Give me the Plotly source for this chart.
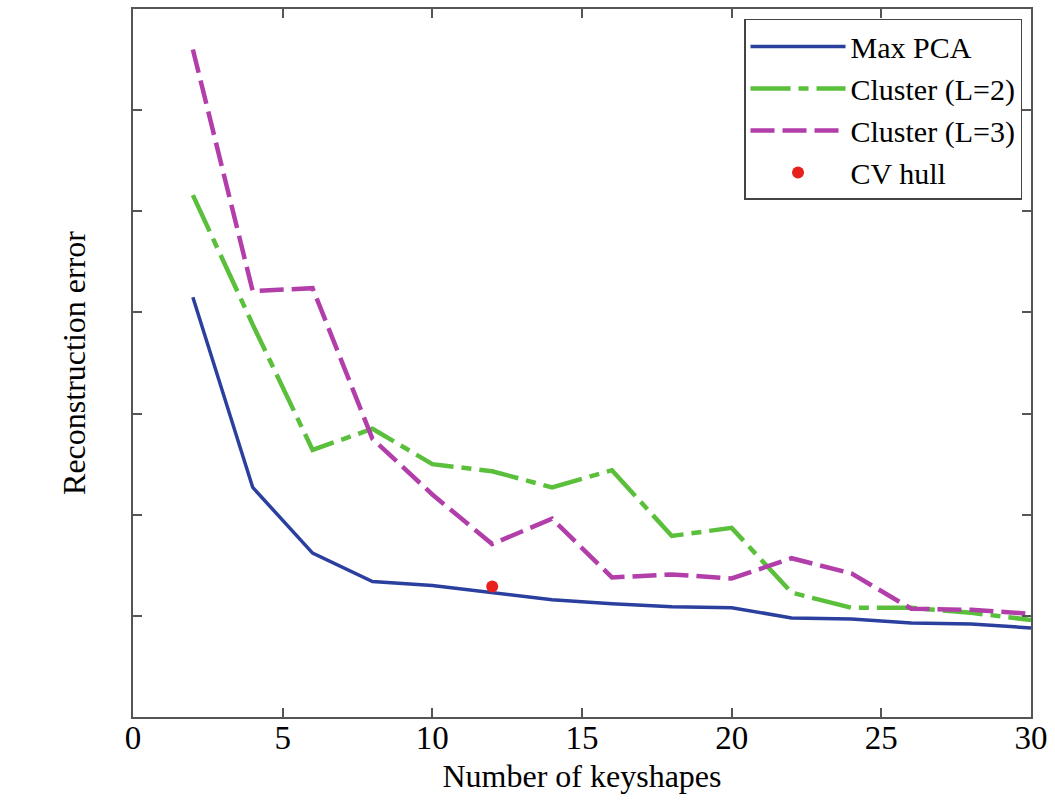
import plotly.graph_objects as go

# Number of keyshapes evaluated
keyshapes = [2, 4, 6, 8, 10, 12, 14, 16, 18, 20, 22, 24, 26, 28, 30]

# Reconstruction error per method (arbitrary units)
max_pca = [4.15, 2.27, 1.62, 1.34, 1.30, 1.23, 1.16, 1.12, 1.09, 1.08,
           0.98, 0.97, 0.93, 0.92, 0.88]
cluster_l2 = [5.16, 3.88, 2.64, 2.85, 2.50, 2.43, 2.27, 2.44, 1.79, 1.87,
              1.23, 1.08, 1.08, 1.03, 0.96]
cluster_l3 = [6.60, 4.21, 4.24, 2.75, 2.20, 1.71, 1.96, 1.38, 1.41, 1.37,
              1.57, 1.42, 1.07, 1.06, 1.02]

# Single CV hull result
cv_hull_x = [12]
cv_hull_y = [1.29]

x_ticks = [0, 5, 10, 15, 20, 25, 30]
y_ticks = [1, 2, 3, 4, 5, 6]

serif = "Liberation Serif, Times New Roman, serif"

fig = go.Figure()
fig.add_trace(go.Scatter(
    x=keyshapes, y=max_pca, mode="lines", name="Max PCA",
    line=dict(color="#2b3f9e", width=3.5)))
fig.add_trace(go.Scatter(
    x=keyshapes, y=cluster_l2, mode="lines", name="Cluster (L=2)",
    line=dict(color="#5abf3a", width=4.5, dash="40px,8px,10px,8px")))
fig.add_trace(go.Scatter(
    x=keyshapes, y=cluster_l3, mode="lines", name="Cluster (L=3)",
    line=dict(color="#b23eaa", width=4.5, dash="24px,8px")))
fig.add_trace(go.Scatter(
    x=cv_hull_x, y=cv_hull_y, mode="markers", name="CV hull",
    marker=dict(color="#e8211d", size=12)))

axis_common = dict(
    showline=True, linecolor="#555555", linewidth=2, mirror="ticks",
    ticks="inside", ticklen=9, tickwidth=1.5, tickcolor="#555555",
    showgrid=False, zeroline=False,
)

fig.update_xaxes(
    range=[0, 30], tickvals=x_ticks,
    tickfont=dict(family=serif, size=33, color="black"),
    ticklabelstandoff=-10,
    title=dict(text="Number of keyshapes",
               font=dict(family=serif, size=32, color="black"), standoff=10),
    **axis_common)
fig.update_yaxes(
    range=[0, 7], tickvals=y_ticks, showticklabels=False,
    title=dict(text="Reconstruction error",
               font=dict(family=serif, size=32, color="black"), standoff=36),
    **axis_common)

fig.update_layout(
    width=1055, height=801,
    margin=dict(l=133, r=23, t=7, b=84),
    paper_bgcolor="white", plot_bgcolor="white",
    legend=dict(
        x=0.99, y=0.986, xanchor="right", yanchor="top",
        bgcolor="white", bordercolor="#444444", borderwidth=1.5,
        font=dict(family=serif, size=30, color="black"),
        itemwidth=95, tracegroupgap=0,
    ),
)

fig.write_html("out.html")
